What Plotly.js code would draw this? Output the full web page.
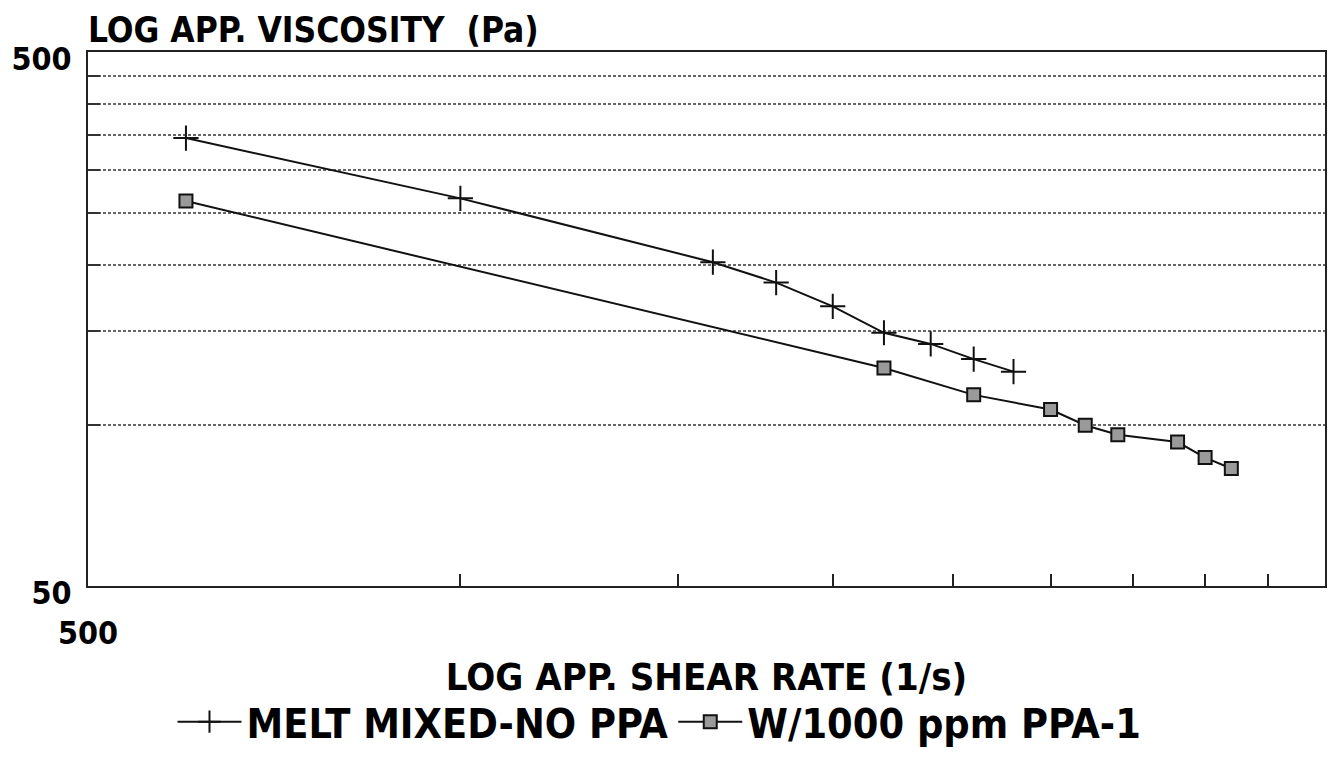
<!DOCTYPE html>
<html>
<head>
<meta charset="utf-8">
<script src="https://cdn.plot.ly/plotly-3.0.1.min.js"></script>
<style>
  html, body { margin: 0; padding: 0; background: #ffffff; }
  #chart { width: 1332px; height: 775px; }
</style>
</head>
<body>
<div id="chart"></div>
<script>
// Apparent viscosity vs apparent shear rate (log-log)
const seriesNames = ["MELT MIXED-NO PPA", "W/1000 ppm PPA-1"];

const shearNoPPA = [600, 1000, 1600, 1800, 2000, 2200, 2400, 2600, 2800];
const viscNoPPA  = [345, 266, 202, 185, 167, 149, 142, 133, 126];

const shearPPA = [600, 2200, 2600, 3000, 3200, 3400, 3800, 4000, 4200];
const viscPPA  = [263, 128, 114, 107, 100, 96, 93, 87, 83];

const xTickVals = [500, 1000, 1500, 2000, 2500, 3000, 3500, 4000, 4500];
const xTickText = ["500", "", "", "", "", "", "", "", ""];
const yTickVals = [50, 100, 150, 200, 250, 300, 350, 400, 450, 500];
const yTickText = ["50", "", "", "", "", "", "", "", "", "500"];

const FONT = "'DejaVu Sans Condensed', 'Liberation Sans', sans-serif";

const traces = [
  {
    x: shearNoPPA, y: viscNoPPA, name: seriesNames[0],
    type: "scatter", mode: "lines+markers",
    line: { color: "#111111", width: 2 },
    marker: { symbol: "cross-thin-open", size: 18, color: "#111111",
              line: { color: "#111111", width: 2 } }
  },
  {
    x: shearPPA, y: viscPPA, name: seriesNames[1],
    type: "scatter", mode: "lines+markers",
    line: { color: "#111111", width: 2 },
    marker: { symbol: "square", size: 13, color: "#9a9a9a",
              line: { color: "#111111", width: 2 } }
  }
];

const layout = {
  width: 1332, height: 775,
  paper_bgcolor: "#ffffff", plot_bgcolor: "#ffffff",
  margin: { l: 88, r: 7, t: 52, b: 189 },
  font: { family: FONT, color: "#000000", size: 30, weight: "bold" },
  showlegend: true,
  title: {
    text: "<b>LOG APP. VISCOSITY  (Pa)</b>",
    xref: "paper", x: 0, xanchor: "left",
    yref: "container", y: 0.962, yanchor: "middle",
    font: { family: FONT, size: 35, color: "#000000" }
  },
  xaxis: {
    type: "log",
    range: [Math.log10(500), Math.log10(5000)],
    tickvals: xTickVals, ticktext: xTickText,
    ticks: "inside", ticklen: 12, tickwidth: 2, tickcolor: "#222222",
    showgrid: false, zeroline: false,
    showline: true, linecolor: "#222222", linewidth: 2, mirror: true,
    tickfont: { family: FONT, size: 32, color: "#000000", weight: "bold" },
    ticklabelstandoff: 18,
    title: {
      text: "<b>LOG APP. SHEAR RATE (1/s)</b>",
      font: { family: FONT, size: 38, color: "#000000" },
      standoff: 12
    }
  },
  yaxis: {
    type: "log",
    range: [Math.log10(50), Math.log10(500)],
    tickvals: yTickVals, ticktext: yTickText,
    ticks: "inside", ticklen: 12, tickwidth: 2, tickcolor: "#333333",
    showgrid: true, gridcolor: "#666666", gridwidth: 2, griddash: "3px,2px",
    zeroline: false,
    showline: true, linecolor: "#222222", linewidth: 2, mirror: true,
    tickfont: { family: FONT, size: 32, color: "#000000", weight: "bold" },
    ticklabelstandoff: 8,
    ticklabelshift: 7
  },
  legend: {
    orientation: "h",
    xref: "paper", x: 0.462, xanchor: "center",
    yref: "paper", y: -0.2547, yanchor: "middle",
    font: { family: FONT, size: 41, color: "#000000", weight: "bold" },
    itemwidth: 64,
    bgcolor: "rgba(0,0,0,0)"
  }
};

Plotly.newPlot("chart", traces, layout, { displayModeBar: false, staticPlot: true });
</script>
</body>
</html>
